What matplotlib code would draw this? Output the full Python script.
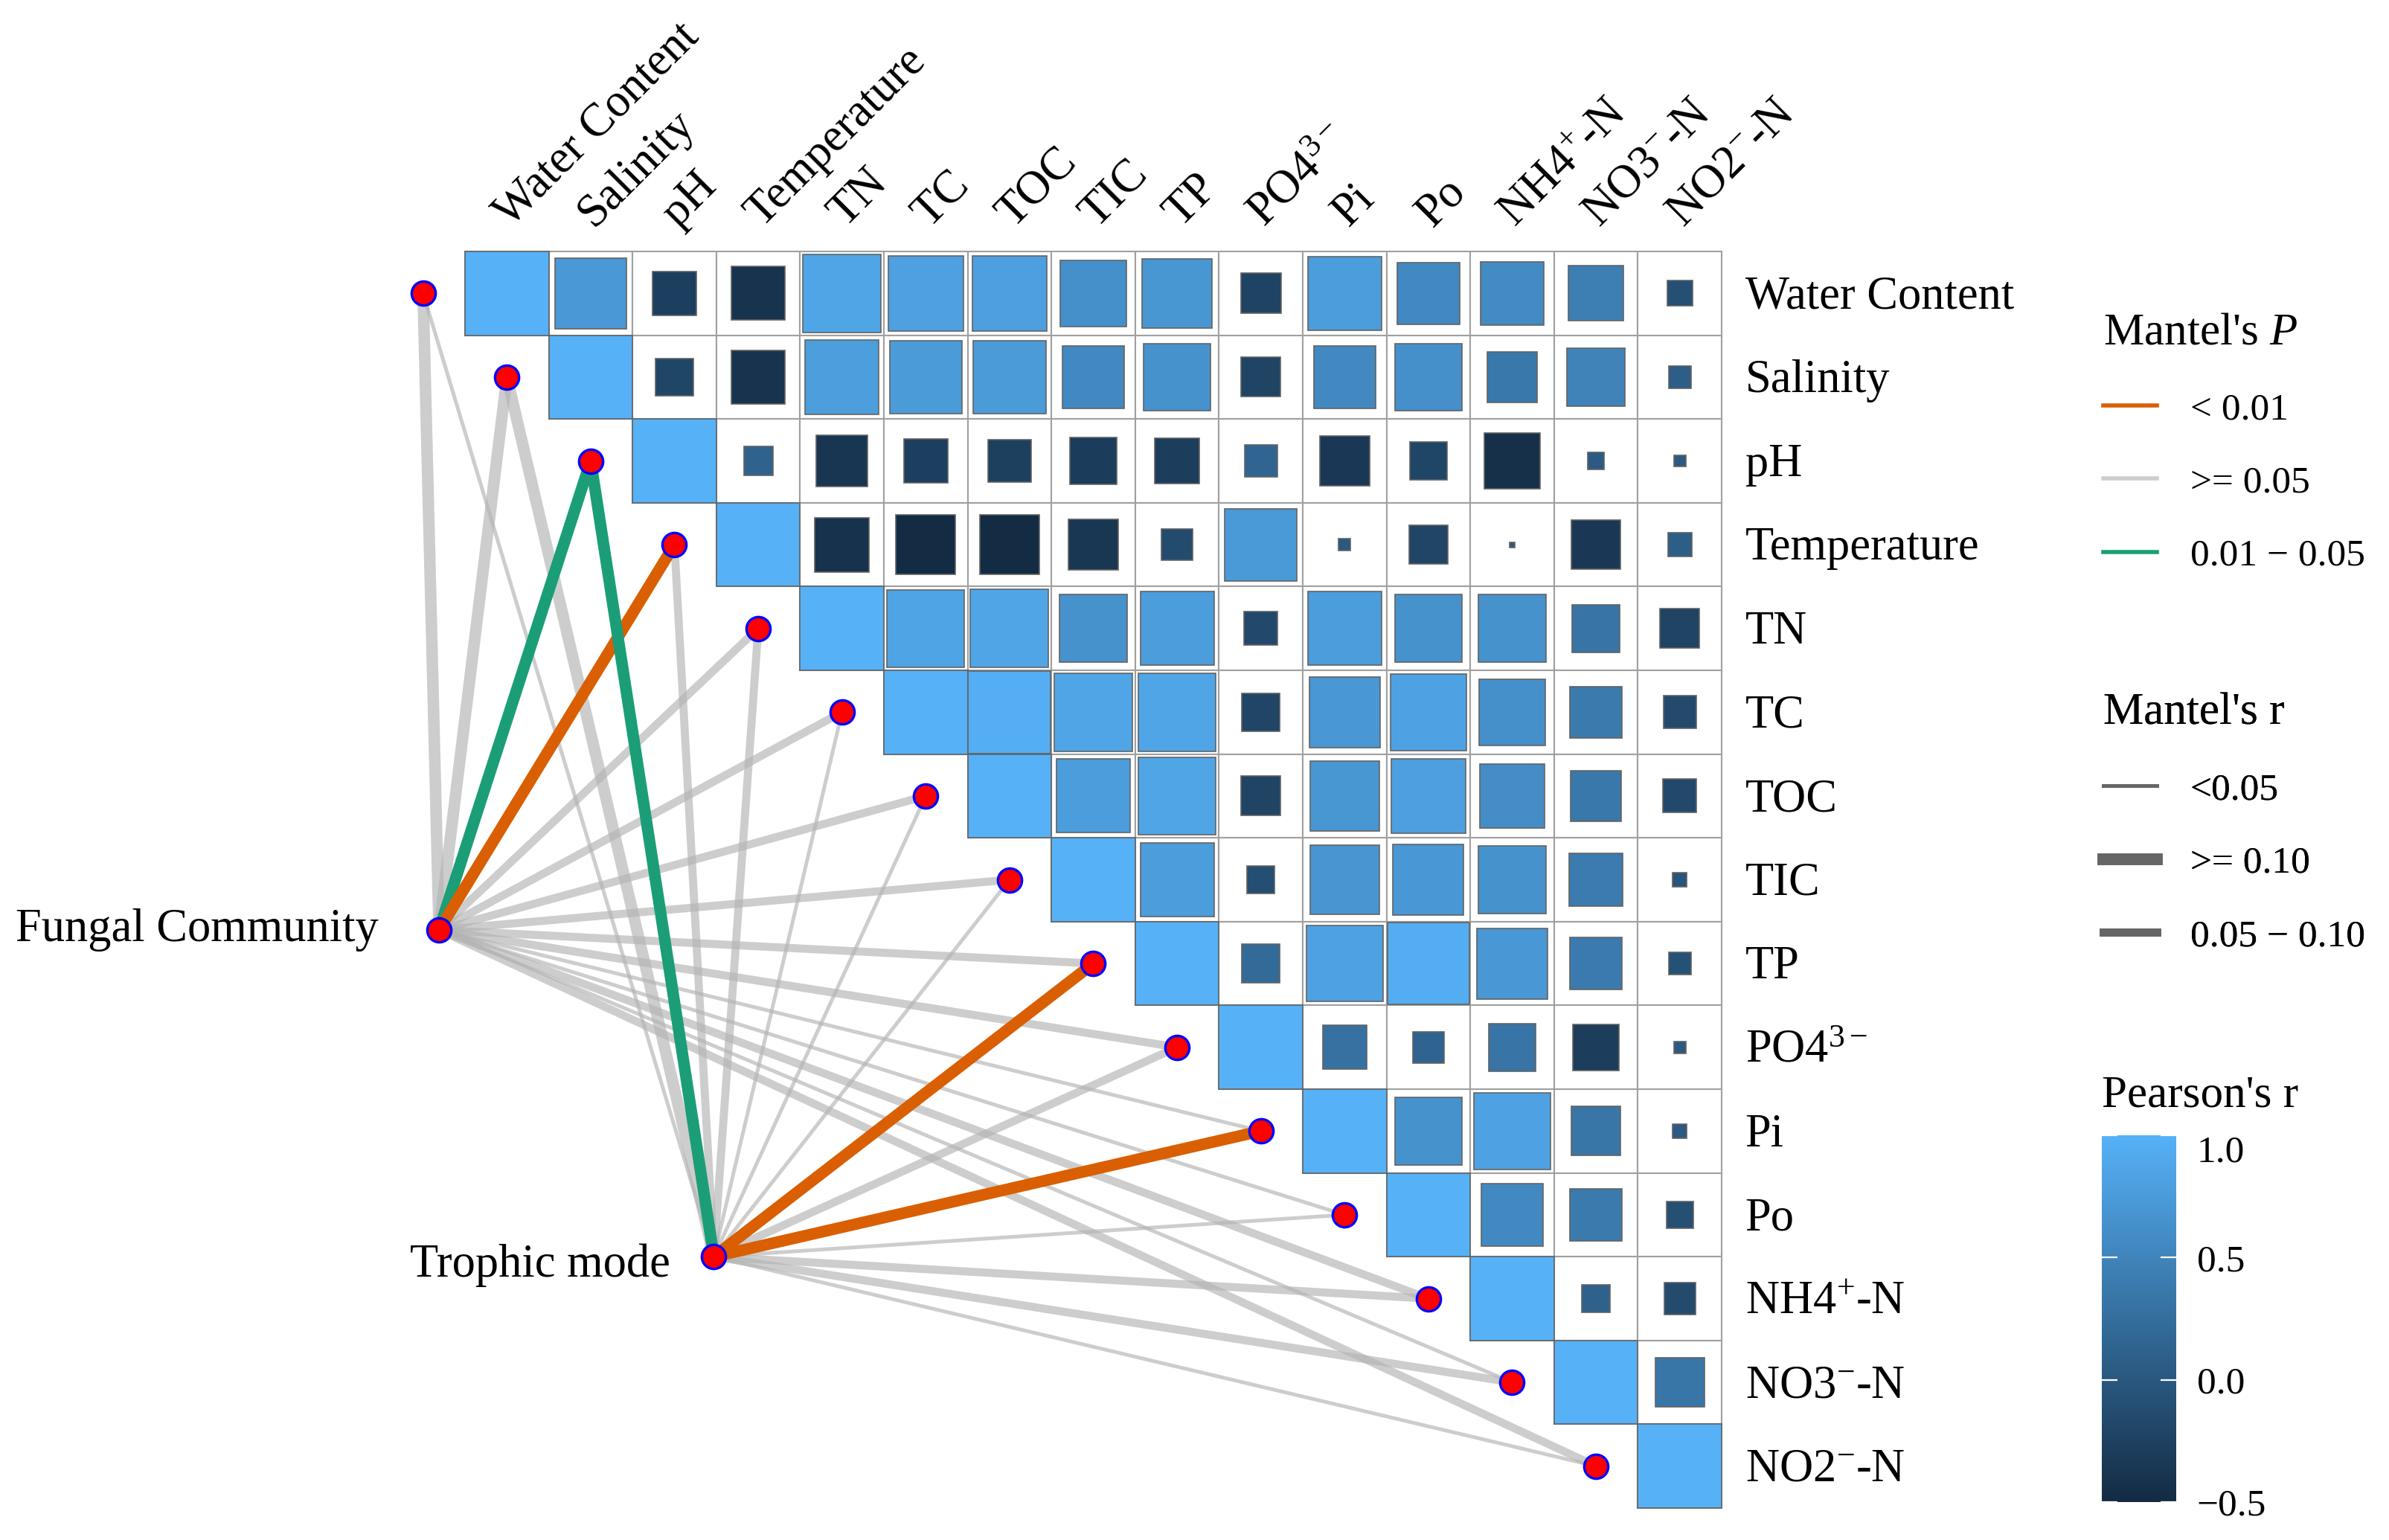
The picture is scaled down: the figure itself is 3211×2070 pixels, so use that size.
import numpy as np
import matplotlib
matplotlib.use("Agg")
import matplotlib.pyplot as plt
from matplotlib.colors import LinearSegmentedColormap, Normalize
from matplotlib.cm import ScalarMappable
from matplotlib.patches import Rectangle
from matplotlib.lines import Line2D

plt.rcParams['font.family'] = ['Liberation Serif', 'DejaVu Serif']
plt.rcParams['mathtext.fontset'] = 'custom'
plt.rcParams['mathtext.rm'] = 'Liberation Serif'
plt.rcParams['mathtext.it'] = 'Liberation Serif:italic'
plt.rcParams['mathtext.default'] = 'rm'

# variables (rows / columns of the correlation matrix)
env_vars = ["Water Content", "Salinity", "pH", "Temperature", "TN", "TC", "TOC",
            "TIC", "TP", r"PO4$^{3-}$", "Pi", "Po", r"NH4$^{+}$-N",
            r"NO3$^{-}$-N", r"NO2$^{-}$-N"]

# Pearson's r, upper triangle, row by row (columns right of the diagonal)
r_upper = [
    [0.72, -0.27, -0.41, 0.87, 0.81, 0.80, 0.63, 0.69, -0.23, 0.77, 0.55, 0.57, 0.43, -0.09],
    [-0.20, -0.41, 0.78, 0.75, 0.75, 0.55, 0.65, -0.22, 0.55, 0.63, 0.36, 0.48, 0.07],
    [0.12, -0.38, -0.27, -0.26, -0.31, -0.29, 0.15, -0.35, -0.20, -0.44, 0.04, 0.02],
    [-0.42, -0.50, -0.50, -0.36, -0.14, 0.74, 0.02, -0.21, 0.004, -0.35, 0.08],
    [0.85, 0.87, 0.65, 0.77, -0.16, 0.77, 0.65, 0.65, 0.32, -0.22],
    [0.97, 0.86, 0.86, -0.21, 0.71, 0.83, 0.63, 0.38, -0.15],
    [0.77, 0.86, -0.22, 0.69, 0.80, 0.59, 0.36, -0.16],
    [0.77, -0.11, 0.68, 0.71, 0.65, 0.40, -0.03],
    [0.21, 0.83, 0.95, 0.71, 0.39, -0.07],
    [0.28, 0.14, 0.32, -0.30, 0.02],
    [0.65, 0.83, 0.34, 0.03],
    [0.55, 0.38, -0.10],
    [0.11, -0.14],
    [0.34],
]

# Mantel test results (category per environmental variable)
sources = ["Fungal Community", "Trophic mode"]
fc_p = [">= 0.05", ">= 0.05", "0.01 - 0.05", "< 0.01", ">= 0.05", ">= 0.05", ">= 0.05",
        ">= 0.05", ">= 0.05", ">= 0.05", ">= 0.05", ">= 0.05", ">= 0.05", ">= 0.05", ">= 0.05"]
fc_r = [">= 0.10", ">= 0.10", ">= 0.10", ">= 0.10", "0.05 - 0.10", "0.05 - 0.10", "0.05 - 0.10",
        "0.05 - 0.10", "0.05 - 0.10", "0.05 - 0.10", "<0.05", "<0.05", "0.05 - 0.10", "<0.05",
        "0.05 - 0.10"]
tm_p = [">= 0.05", ">= 0.05", "0.01 - 0.05", ">= 0.05", ">= 0.05", ">= 0.05", ">= 0.05",
        ">= 0.05", "< 0.01", ">= 0.05", "< 0.01", ">= 0.05", ">= 0.05", ">= 0.05", ">= 0.05"]
tm_r = ["<0.05", ">= 0.10", ">= 0.10", "0.05 - 0.10", "0.05 - 0.10", "<0.05", "<0.05",
        "<0.05", ">= 0.10", "0.05 - 0.10", ">= 0.10", "<0.05", "0.05 - 0.10", "0.05 - 0.10",
        "<0.05"]

p_colors = {"< 0.01": "#D95F02", ">= 0.05": "#B3B3B3", "0.01 - 0.05": "#1B9E77"}
r_widths = {"<0.05": 1.8, ">= 0.10": 5.6, "0.05 - 0.10": 3.9}

cmap = LinearSegmentedColormap.from_list("gg", ["#132B43", "#56B1F7"])
norm = Normalize(-0.5, 1.0)

fig = plt.figure(figsize=(16.06, 10.35), dpi=200)
ax = fig.add_axes([0, 0, 1, 1])
cell = 112.6
ax.set_xlim(-625 / cell, (3212 - 625) / cell)
ax.set_ylim((2070 - 338) / cell, -338 / cell)
ax.axis('off')

n = len(env_vars)

# correlation squares
for i in range(n):
    for j in range(i, n):
        r = 1.0 if i == j else r_upper[i][j - i - 1]
        ax.add_patch(Rectangle((j, i), 1, 1, facecolor='white', edgecolor='#A0A0A0',
                               lw=0.75, zorder=1))
        s = np.sqrt(abs(r))
        ax.add_patch(Rectangle((j + 0.5 - s / 2, i + 0.5 - s / 2), s, s,
                               facecolor=cmap(norm(r)), edgecolor='#636363', lw=0.6, zorder=2))

# labels
for k, name in enumerate(env_vars):
    ax.text(k + 0.5 + 0.04, -0.28, name, rotation=45, rotation_mode='anchor',
            ha='left', va='baseline', fontsize=22.5)
    ax.text(15.28, k + 0.5 + 0.18, name, ha='left', va='baseline', fontsize=22.5)

# mantel links
node_x = np.arange(n) - 0.5
node_y = np.arange(n) + 0.5
src_xy = {"Fungal Community": (-0.31, 8.1), "Trophic mode": (2.97, 12.0)}
src_p = {"Fungal Community": fc_p, "Trophic mode": tm_p}
src_r = {"Fungal Community": fc_r, "Trophic mode": tm_r}
label_off = {"Fungal Community": (-0.72, 0.0), "Trophic mode": (-0.52, 0.1)}

for src in sources:
    sx, sy = src_xy[src]
    for k in range(n):
        pc = src_p[src][k]
        grey = pc == ">= 0.05"
        ax.plot([sx, node_x[k]], [sy, node_y[k]], color=p_colors[pc],
                lw=r_widths[src_r[src][k]], alpha=0.65 if grey else 1.0,
                solid_capstyle='butt', zorder=3 if grey else 4)

ax.scatter(node_x, node_y, s=135, c='red', edgecolors='blue', linewidths=1.2, zorder=6)
sxs = [src_xy[s][0] for s in sources]
sys_ = [src_xy[s][1] for s in sources]
ax.scatter(sxs, sys_, s=135, c='red', edgecolors='blue', linewidths=1.2, zorder=6)
for src in sources:
    dx, dy = label_off[src]
    ax.text(src_xy[src][0] + dx, src_xy[src][1] + dy, src, ha='right', va='center',
            fontsize=22.5)

# legends
p_order = ["< 0.01", ">= 0.05", "0.01 - 0.05"]
p_handles = [Line2D([], [], color=p_colors[c], lw=2.0,
                    alpha=0.65 if c == ">= 0.05" else 1.0) for c in p_order]
p_labels = [c.replace(" - ", " \u2212 ") for c in p_order]
leg1 = ax.legend(p_handles, p_labels, title="Mantel's $\\mathit{P}$", loc='upper left',
                 bbox_to_anchor=(0.880, 0.797), frameon=False, fontsize=18.5,
                 title_fontsize=22, handlelength=1.4, handletextpad=0.88,
                 labelspacing=1.0, borderpad=0, borderaxespad=0, alignment='left')
ax.add_artist(leg1)

r_order = ["<0.05", ">= 0.10", "0.05 - 0.10"]
r_handles = [Line2D([], [], color='#666666', lw=r_widths[c]) for c in r_order]
r_labels = [c.replace(" - ", " \u2212 ") for c in r_order]
leg2 = ax.legend(r_handles, r_labels, title="Mantel's r", loc='upper left',
                 bbox_to_anchor=(0.880, 0.550), frameon=False, fontsize=18.5,
                 title_fontsize=22, handlelength=1.4, handletextpad=0.88,
                 labelspacing=1.0, borderpad=0, borderaxespad=0, alignment='left')
ax.add_artist(leg2)

# colorbar
cax = fig.add_axes([2825 / 3212, 1 - 2019 / 2070, 100 / 3212, 493 / 2070])
cb = fig.colorbar(ScalarMappable(norm=norm, cmap=cmap), cax=cax)
cb.outline.set_visible(False)
cb.set_ticks([-0.5, 0.0, 0.5, 1.0])
cb.set_ticklabels(["\u22120.5", "0.0", "0.5", "1.0"])
cax.tick_params(direction='in', color='white', labelcolor='black', length=7.5, width=0.8,
                left=True, right=True, labelsize=18.5, pad=10)
cax.yaxis.get_major_ticks()[-1].label2.set_verticalalignment('top')
cax.set_title("Pearson's r", loc='left', fontsize=22, pad=14)

fig.savefig("out.png", dpi=200)
